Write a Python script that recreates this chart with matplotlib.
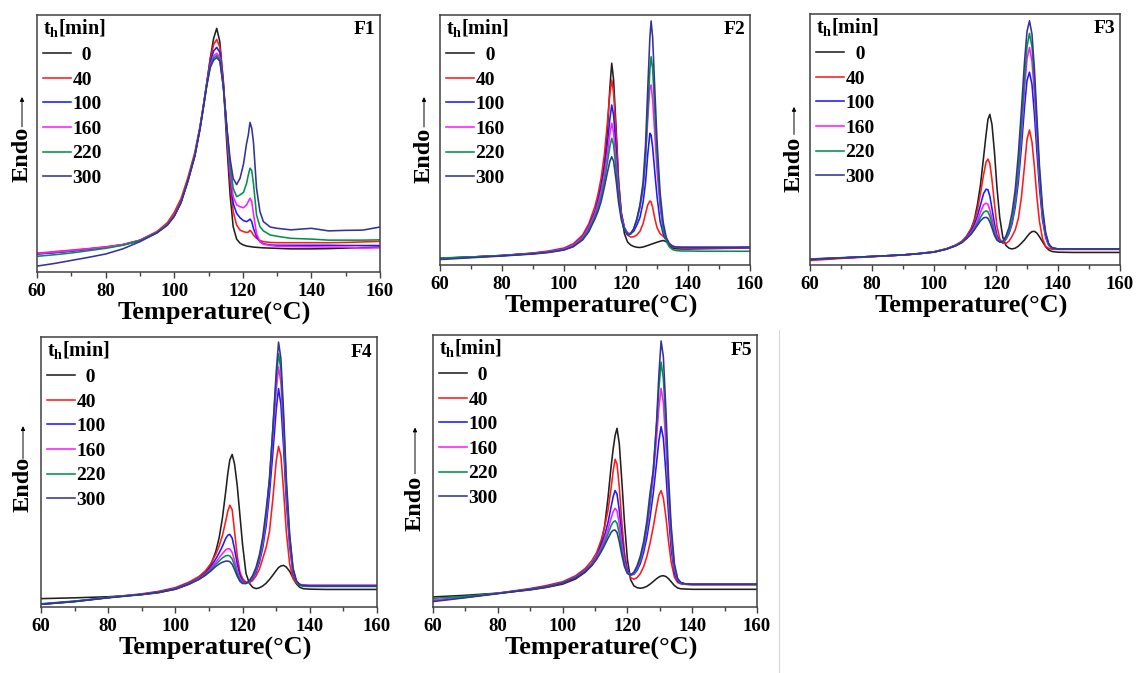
import matplotlib
matplotlib.use("Agg")
import matplotlib.pyplot as plt
from matplotlib.transforms import offset_copy
from matplotlib.lines import Line2D

plt.rcParams['font.family'] = ['Liberation Serif', 'DejaVu Serif']
plt.rcParams['font.weight'] = 'bold'
plt.rcParams['mathtext.fontset'] = 'custom'
plt.rcParams['mathtext.rm'] = 'Liberation Serif:bold'
plt.rcParams['mathtext.bf'] = 'Liberation Serif:bold'
plt.rcParams['mathtext.it'] = 'Liberation Serif:bold'

# ---------------------------------------------------------------- data
hold_times = ["  0", "40", "100", "160", "220", "300"]
colors = ['#202020', '#ff1a1a', '#1a1aff', '#ff1aff', '#00924a', '#333399']

# F1
f1_temp = [60, 65, 70, 75, 80, 85, 90, 95, 98, 100, 102, 104, 106, 107.5, 108.5,
           109.5, 110.5, 111.5, 112.4, 113.3, 114.3, 115.3, 116.3, 117.2, 118.2,
           119.2, 120.2, 121.1, 121.6, 122.1, 122.6, 123.1, 124, 125, 126, 128,
           130, 134, 140, 145, 150, 155, 160]
f1_0 = [7.1, 7.6, 8.2, 8.9, 9.6, 10.6, 12.3, 15.5, 18.5, 22.0, 27.5, 35.8, 45.5,
        56.0, 64.5, 73.5, 83.1, 90.9, 94.8, 89.6, 74.1, 50.7, 30.0, 17.6, 12.8,
        11.2, 10.5, 10.1, 10.0, 9.9, 9.8, 9.7, 9.6, 9.5, 9.4, 9.3, 9.2, 9.0,
        9.0, 9.1, 9.3, 9.5, 9.7]
f1_40 = [7.3, 7.9, 8.5, 9.1, 9.8, 10.7, 12.4, 15.8, 19.2, 23.2, 28.6, 36.8, 46.5,
         56.5, 64.8, 73.6, 82.5, 88.5, 90.5, 87.5, 75.0, 54.6, 35.2, 23.5, 18.3,
         16.3, 15.7, 15.4, 15.5, 16.2, 15.5, 14.4, 13.1, 12.3, 11.8, 11.5, 11.4,
         11.4, 11.4, 11.4, 11.5, 11.7, 11.9]
f1_100 = [7.0, 7.5, 8.1, 8.8, 9.5, 10.5, 12.2, 15.4, 18.4, 21.8, 27.3, 35.6, 45.3,
          55.8, 64.3, 73.2, 81.5, 86.0, 87.4, 85.5, 73.5, 56.0, 37.8, 26.7, 22.8,
          21.1, 20.0, 19.6, 20.0, 20.6, 19.6, 17.0, 13.8, 11.8, 11.0, 10.5, 10.4,
          10.4, 10.4, 10.4, 10.3, 10.3, 10.3]
f1_160 = [7.2, 7.7, 8.3, 9.0, 9.7, 10.6, 12.3, 15.5, 18.5, 22.0, 27.4, 35.7, 45.4,
          55.9, 64.3, 73.0, 80.5, 84.0, 85.1, 83.5, 72.5, 56.0, 39.0, 29.3, 26.1,
          25.4, 25.0, 26.1, 27.4, 28.7, 27.4, 22.8, 15.0, 11.8, 10.8, 10.3, 10.0,
          9.9, 9.8, 9.7, 9.6, 9.3, 9.4]
f1_220 = [6.1, 6.7, 7.4, 8.3, 9.2, 10.4, 12.2, 15.4, 18.4, 21.8, 27.2, 35.5, 45.2,
          55.6, 64.0, 72.8, 80.0, 83.2, 84.2, 82.8, 72.5, 57.0, 41.6, 32.6, 29.3,
          30.0, 31.0, 34.5, 37.7, 40.4, 39.5, 34.5, 22.2, 17.6, 16.0, 14.4, 13.9,
          13.1, 12.8, 12.4, 12.4, 12.4, 12.5]
f1_300 = [2.3, 3.3, 4.5, 5.7, 7.0, 9.0, 11.8, 15.2, 18.2, 21.6, 27.0, 35.3, 45.0,
          55.4, 63.8, 72.5, 79.5, 82.5, 83.4, 82.0, 72.5, 57.0, 44.0, 36.4, 34.0,
          36.5, 42.0, 50.0, 53.3, 58.2, 56.0, 50.7, 32.6, 23.5, 19.6, 17.5, 17.0,
          16.4, 17.0, 16.0, 16.2, 16.3, 17.5]

# F2
f2_temp = [60, 70, 80, 90, 95, 100, 103, 106, 108, 110, 111, 112, 113, 114, 114.8,
           115.4, 116, 116.8, 117.6, 118.5, 119.5, 120.5, 121.5, 122.5, 123.5,
           124.5, 125.5, 126.3, 127, 127.7, 128.1, 128.6, 129.3, 130, 131, 132,
           133, 134, 135, 136, 138, 140, 145, 150, 155, 160]
f2_0 = [2.7, 3.2, 3.8, 4.6, 5.2, 6.3, 7.8, 10.8, 15.0, 21.0, 26.0, 32.0, 40.0,
        54.0, 71.0, 80.7, 74.0, 55.0, 34.0, 20.0, 12.5, 9.2, 8.0, 7.4, 7.1, 7.0,
        7.2, 7.5, 7.8, 8.1, 8.3, 8.5, 8.8, 9.1, 9.5, 9.8, 9.3, 8.0, 6.8, 6.5,
        6.4, 6.4, 6.5, 6.6, 6.7, 6.8]
f2_40 = [2.5, 3.1, 3.8, 4.8, 5.6, 6.8, 8.5, 12.0, 16.5, 23.5, 28.5, 35.0, 44.0,
         57.0, 68.5, 74.0, 69.0, 52.0, 33.0, 21.0, 14.5, 12.0, 11.2, 11.3, 12.0,
         13.5, 16.5, 20.5, 24.0, 25.6, 25.2, 23.0, 18.5, 15.0, 12.5, 11.5, 10.0,
         8.3, 7.3, 7.0, 6.9, 6.9, 6.9, 6.9, 6.9, 7.0]
f2_100 = [2.6, 3.2, 3.8, 4.7, 5.4, 6.5, 8.0, 11.3, 15.5, 21.5, 26.0, 31.5, 38.5,
          48.5, 58.5, 64.0, 60.0, 46.0, 31.0, 20.5, 15.0, 12.8, 12.5, 13.5, 16.0,
          19.0, 25.0, 33.0, 44.0, 52.7, 52.0, 47.0, 37.0, 27.5, 17.5, 12.5, 9.8,
          8.2, 7.4, 7.1, 7.0, 7.0, 7.0, 7.0, 7.0, 7.0]
f2_160 = [2.5, 3.1, 3.7, 4.6, 5.3, 6.4, 7.9, 11.0, 15.0, 20.5, 24.5, 29.5, 36.0,
          44.5, 52.5, 56.7, 53.0, 41.5, 28.5, 19.5, 14.5, 12.5, 12.6, 14.5, 18.0,
          23.0, 30.0, 42.0, 58.0, 71.0, 72.0, 66.0, 52.0, 38.0, 23.0, 14.5, 10.5,
          8.5, 7.6, 7.2, 7.0, 7.0, 7.0, 7.0, 7.0, 7.0]
f2_220 = [2.8, 3.2, 3.7, 4.5, 5.1, 6.1, 7.5, 10.5, 14.2, 19.5, 23.0, 27.5, 33.5,
          41.0, 47.5, 50.7, 48.0, 38.5, 27.5, 19.0, 14.3, 12.3, 12.6, 14.5, 18.0,
          23.5, 31.0, 43.0, 61.0, 78.0, 83.3, 78.5, 61.0, 44.0, 25.5, 14.5, 9.5,
          7.2, 6.2, 5.8, 5.6, 5.6, 5.5, 5.5, 5.5, 5.5]
f2_300 = [2.2, 2.9, 3.6, 4.4, 5.0, 6.0, 7.3, 10.0, 13.3, 18.5, 21.5, 25.5, 31.0,
          37.0, 41.5, 43.3, 41.5, 34.0, 25.0, 18.0, 14.0, 12.0, 12.4, 14.5, 18.5,
          24.0, 33.0, 48.0, 70.0, 91.0, 97.6, 91.0, 70.0, 50.0, 29.0, 17.0, 11.0,
          8.5, 7.6, 7.2, 7.1, 7.1, 7.1, 7.1, 7.1, 7.2]

# F3
f3_temp = [60, 70, 80, 90, 95, 100, 104, 107, 109, 110.5, 112, 113, 114, 115, 116,
           116.8, 117.4, 118, 118.7, 119.5, 120.3, 121.2, 122.2, 123.2, 124.2,
           125.2, 126.2, 127.2, 128.2, 129.2, 130, 130.8, 131.6, 132.4, 133.2,
           134, 135, 136, 137, 138, 140, 145, 150, 155, 160]
f3_0 = [2.4, 2.9, 3.4, 4.0, 4.5, 5.2, 6.3, 7.8, 9.2, 11.3, 14.5, 18.0, 24.0, 32.0,
        43.0, 52.0, 58.0, 60.0, 56.0, 45.0, 31.0, 19.0, 11.0, 7.8, 6.7, 6.4, 6.7,
        7.5, 8.7, 10.0, 11.3, 12.5, 13.3, 13.4, 12.7, 11.3, 9.3, 7.3, 6.0, 5.4,
        5.1, 5.0, 5.0, 5.0, 5.0]
f3_40 = [1.8, 2.6, 3.3, 4.0, 4.6, 5.3, 6.5, 8.0, 9.5, 11.5, 14.5, 17.5, 22.0, 28.5,
         36.0, 41.0, 42.2, 40.5, 34.0, 24.5, 15.5, 10.5, 8.6, 8.6, 9.5, 11.5,
         14.0, 18.5, 27.0, 39.5, 50.0, 53.8, 49.0, 39.0, 27.0, 17.5, 10.5, 7.5,
         6.6, 6.3, 6.2, 6.2, 6.2, 6.2, 6.2]
f3_100 = [2.2, 2.8, 3.4, 4.0, 4.5, 5.2, 6.4, 7.8, 9.2, 11.0, 13.6, 16.0, 19.5,
          24.0, 28.5, 30.2, 30.0, 27.5, 22.5, 16.5, 11.8, 9.4, 9.0, 10.2, 12.5,
          16.5, 23.0, 33.0, 47.0, 63.0, 73.5, 76.8, 72.0, 60.0, 45.0, 31.0, 18.0,
          11.0, 7.8, 6.7, 6.3, 6.3, 6.3, 6.3, 6.3]
f3_160 = [2.3, 2.8, 3.4, 4.0, 4.5, 5.2, 6.4, 7.8, 9.1, 10.8, 13.0, 15.0, 17.5,
          21.0, 24.0, 24.6, 24.2, 22.0, 18.5, 14.0, 10.8, 9.2, 9.0, 10.5, 13.2,
          17.5, 25.0, 36.0, 52.0, 70.0, 82.0, 86.7, 81.0, 68.0, 51.0, 35.0, 20.0,
          12.0, 8.0, 6.8, 6.3, 6.3, 6.3, 6.3, 6.3]
f3_220 = [2.3, 2.8, 3.4, 4.0, 4.5, 5.2, 6.4, 7.7, 9.0, 10.6, 12.6, 14.5, 16.5,
          19.0, 21.0, 21.6, 21.2, 19.5, 16.5, 12.8, 10.3, 9.1, 9.0, 10.6, 13.5,
          18.0, 26.0, 38.0, 55.0, 74.0, 87.0, 92.3, 87.0, 73.0, 55.0, 37.0, 21.0,
          12.5, 8.2, 6.8, 6.4, 6.4, 6.4, 6.4, 6.4]
f3_300 = [2.2, 2.8, 3.4, 4.0, 4.5, 5.1, 6.3, 7.6, 8.9, 10.5, 12.3, 14.0, 15.8,
          17.6, 18.8, 19.0, 18.6, 17.2, 14.8, 11.8, 9.9, 9.2, 9.4, 11.5, 15.0,
          21.0, 30.0, 44.0, 62.0, 81.0, 93.0, 97.3, 92.0, 78.0, 59.0, 40.0, 23.0,
          13.0, 8.5, 7.0, 6.4, 6.4, 6.4, 6.4, 6.4]

# F4
f4_temp = [60, 70, 80, 90, 95, 100, 104, 107, 109, 110.5, 112, 113, 114, 115,
           115.6, 116.2, 116.9, 117.6, 118.4, 119.2, 120, 121, 122, 123, 124, 125,
           126, 127, 128, 129, 130, 130.7, 131.4, 132.2, 133, 134, 135, 136, 137,
           138, 140, 145, 150, 155, 160]
f4_0 = [3.1, 3.4, 3.8, 4.6, 5.3, 6.6, 8.5, 10.5, 12.8, 15.5, 20.5, 25.5, 33.0,
        43.0, 49.5, 54.5, 56.5, 53.0, 45.0, 34.0, 23.0, 12.5, 8.8, 7.3, 6.8, 7.1,
        7.8, 8.8, 10.2, 11.8, 13.5, 14.6, 15.2, 15.4, 14.8, 13.2, 10.8, 8.6, 7.3,
        6.8, 6.6, 6.5, 6.5, 6.5, 6.5]
f4_40 = [1.0, 2.1, 3.5, 4.9, 5.8, 7.2, 9.2, 11.3, 13.5, 16.0, 19.5, 22.5, 26.5,
         32.0, 35.5, 37.7, 36.0, 28.0, 19.0, 13.0, 10.5, 9.2, 9.0, 9.8, 11.5,
         14.0, 18.0, 22.0, 28.0, 40.0, 54.0, 59.5, 56.0, 43.0, 28.0, 16.0, 10.5,
         8.8, 8.2, 7.9, 7.8, 7.8, 7.8, 7.8, 7.8]
f4_100 = [1.0, 2.0, 3.5, 4.7, 5.6, 6.9, 8.8, 10.7, 12.6, 14.8, 17.8, 20.0, 22.5,
          25.5, 26.6, 26.9, 25.5, 21.5, 16.0, 11.8, 9.6, 8.9, 9.3, 10.6, 12.8,
          16.5, 22.0, 30.0, 42.0, 57.0, 73.0, 80.9, 75.0, 59.0, 39.0, 22.5, 12.5,
          9.2, 8.4, 8.1, 8.0, 8.0, 8.0, 8.0, 8.0]
f4_160 = [1.1, 2.1, 3.5, 4.7, 5.5, 6.8, 8.6, 10.5, 12.2, 14.2, 16.6, 18.2, 19.8,
          21.2, 21.6, 21.5, 20.2, 17.2, 13.5, 10.6, 9.2, 8.8, 9.4, 11.0, 13.5,
          17.5, 23.5, 32.5, 46.0, 63.0, 80.0, 88.9, 83.0, 65.0, 43.0, 24.5, 13.5,
          9.5, 8.4, 8.1, 8.0, 8.0, 8.0, 8.0, 8.0]
f4_220 = [1.2, 2.2, 3.5, 4.7, 5.5, 6.7, 8.5, 10.3, 12.0, 13.8, 15.8, 17.0, 18.2,
          19.0, 19.1, 18.9, 17.8, 15.5, 12.4, 10.0, 8.9, 8.7, 9.5, 11.3, 14.0,
          18.3, 24.5, 34.0, 48.0, 66.0, 84.0, 93.8, 88.0, 69.0, 45.0, 26.0, 14.0,
          9.5, 8.0, 7.7, 7.6, 7.6, 7.6, 7.6, 7.6]
f4_300 = [1.0, 2.0, 3.4, 4.6, 5.4, 6.6, 8.4, 10.2, 11.8, 13.3, 15.0, 15.9, 16.6,
          17.0, 17.0, 16.8, 15.8, 13.9, 11.4, 9.5, 8.7, 8.7, 9.7, 11.7, 14.7,
          19.3, 26.0, 36.0, 47.0, 66.0, 87.0, 98.1, 92.0, 72.0, 48.0, 27.0, 14.5,
          9.8, 8.3, 8.0, 7.8, 7.8, 7.8, 7.8, 7.8]

# F5
f5_temp = [60, 70, 80, 90, 95, 100, 104, 107, 109, 110.5, 112, 113, 114, 115,
           115.6, 116.2, 116.8, 117.5, 118.3, 119.1, 120, 121, 122, 123, 124, 125,
           126, 127, 128, 129, 129.7, 130.4, 131.1, 131.9, 132.7, 133.5, 134.5,
           135.5, 136.5, 138, 140, 145, 150, 155, 160]
f5_0 = [3.7, 4.3, 5.1, 6.3, 7.2, 8.4, 10.3, 12.8, 15.3, 18.3, 24.0, 30.0, 40.0,
        52.0, 58.0, 63.0, 65.7, 60.0, 46.0, 31.0, 17.5, 10.0, 7.8, 7.1, 6.9, 7.1,
        7.6, 8.4, 9.4, 10.4, 11.0, 11.4, 11.5, 11.2, 10.4, 9.3, 7.9, 7.0, 6.7,
        6.6, 6.5, 6.5, 6.5, 6.5, 6.5]
f5_40 = [2.2, 3.6, 5.1, 6.8, 7.9, 9.3, 11.5, 14.2, 17.0, 20.0, 25.0, 29.5, 35.5,
         44.0, 50.0, 54.3, 52.5, 44.0, 31.0, 20.0, 13.5, 10.8, 10.2, 10.8, 12.3,
         14.8, 18.5, 23.5, 29.5, 36.5, 41.0, 42.8, 40.0, 33.0, 24.0, 16.5, 11.0,
         9.0, 8.5, 8.3, 8.2, 8.2, 8.2, 8.2, 8.2]
f5_100 = [2.4, 3.6, 5.0, 6.6, 7.6, 9.0, 11.1, 13.6, 16.0, 18.8, 23.0, 26.5, 31.0,
          37.0, 40.5, 42.8, 41.5, 35.5, 26.0, 18.0, 13.3, 11.8, 12.0, 13.5, 16.0,
          20.0, 25.5, 33.0, 42.0, 53.0, 61.0, 66.3, 62.0, 49.0, 34.0, 21.5, 12.5,
          9.5, 8.7, 8.4, 8.3, 8.3, 8.3, 8.3, 8.3]
f5_160 = [2.4, 3.6, 5.0, 6.5, 7.5, 8.9, 11.0, 13.4, 15.7, 18.3, 22.0, 25.0, 28.5,
          32.8, 35.0, 36.3, 35.3, 30.5, 23.0, 16.5, 12.8, 11.7, 12.3, 14.2, 17.2,
          21.8, 28.2, 37.0, 48.0, 62.0, 73.0, 80.4, 75.0, 59.0, 40.0, 25.0, 14.0,
          10.0, 8.8, 8.4, 8.3, 8.3, 8.3, 8.3, 8.3]
f5_220 = [3.2, 3.9, 5.0, 6.5, 7.4, 8.8, 10.8, 13.2, 15.5, 17.9, 21.2, 23.8, 26.8,
          30.0, 31.2, 31.7, 30.8, 27.0, 20.8, 15.5, 12.5, 11.7, 12.5, 14.6, 17.8,
          22.7, 29.5, 39.0, 51.0, 67.0, 80.0, 90.0, 84.0, 66.0, 44.0, 27.5, 15.0,
          10.2, 8.9, 8.4, 8.3, 8.3, 8.3, 8.3, 8.3]
f5_300 = [2.0, 3.4, 4.9, 6.4, 7.3, 8.7, 10.7, 13.0, 15.2, 17.5, 20.5, 22.8, 25.2,
          27.5, 28.2, 28.3, 27.4, 24.0, 19.0, 14.8, 12.3, 11.8, 12.8, 15.2, 18.8,
          24.0, 31.5, 42.0, 50.0, 68.0, 85.0, 97.8, 92.0, 72.0, 48.0, 30.0, 16.0,
          10.5, 9.0, 8.5, 8.4, 8.4, 8.4, 8.4, 8.4]

x_major = [60, 80, 100, 120, 140, 160]
x_minor = [70, 90, 110, 130, 150]

# ---------------------------------------------------------------- figure
W, H = 1137, 673
fig = plt.figure(figsize=(W / 100, H / 100), dpi=100)


def px_axes(left, top, right, bottom):
    return fig.add_axes([left / W, 1 - bottom / H, (right - left) / W, (bottom - top) / H])


def panel(box, temp, curves, tag, endo, arrow, ylab_dx):
    ax = px_axes(*box)
    width_px = box[2] - box[0]
    for vals, col, lab in zip(curves, colors, hold_times):
        ax.plot(temp, vals, color=col, lw=1.15, label=lab)
    ax.set_xlim(60, 160)
    ax.set_ylim(0, 100)
    ax.set_yticks([])
    ax.set_xticks(x_major)
    ax.set_xticks(x_minor, minor=True)
    ax.tick_params(axis='x', which='major', direction='out', length=4, width=1.0,
                   labelsize=13.5, pad=4, color='#404040')
    ax.tick_params(axis='x', which='minor', direction='out', length=3, width=1.0,
                   color='#404040')
    for s in ax.spines.values():
        s.set_color('#404040')
        s.set_linewidth(1.1)
    ax.set_xlabel('Temperature(°C)', fontsize=19, fontweight='bold', labelpad=1)
    ax.xaxis.label.set_x(0.5 + 6 / width_px)

    leg = ax.legend(loc='upper left', bbox_to_anchor=(4 / width_px, 1.0),
                    frameon=False, fontsize=14,
                    title=r'$\mathbf{t_h}$[min]', title_fontsize=14.5,
                    alignment='left', handlelength=1.4, handletextpad=0.1,
                    labelspacing=0.36, borderaxespad=0.0, borderpad=0.12)
    for t in leg.get_texts():
        t.set_fontweight('bold')
    leg.get_title().set_fontweight('bold')

    ax.text(0.985, 0.975, tag, transform=ax.transAxes, ha='right', va='top',
            fontsize=14, fontweight='bold')

    trans = offset_copy(ax.transAxes, fig=fig, x=ylab_dx, y=0, units='dots')
    ax.text(0, endo, 'Endo', transform=trans, rotation=90, ha='center',
            va='bottom', fontsize=17.5, fontweight='bold')
    ax.annotate('', xy=(0, arrow[1]), xytext=(0, arrow[0]), xycoords=trans,
                textcoords=trans, annotation_clip=False,
                arrowprops=dict(arrowstyle='-|>', lw=0.7, color='black',
                                mutation_scale=6, shrinkA=0, shrinkB=0))
    return ax


panel((37, 15, 380, 272), f1_temp, [f1_0, f1_40, f1_100, f1_160, f1_220, f1_300],
      'F1', 0.35, (0.565, 0.681), -15)
panel((440, 15, 750, 265), f2_temp, [f2_0, f2_40, f2_100, f2_160, f2_220, f2_300],
      'F2', 0.328, (0.552, 0.672), -16)
panel((810, 14, 1120, 265), f3_temp, [f3_0, f3_40, f3_100, f3_160, f3_220, f3_300],
      'F3', 0.29, (0.52, 0.63), -16)
panel((41, 337, 377, 607), f4_temp, [f4_0, f4_40, f4_100, f4_160, f4_220, f4_300],
      'F4', 0.35, (0.55, 0.67), -18)
panel((433, 335, 757, 607), f5_temp, [f5_0, f5_40, f5_100, f5_160, f5_220, f5_300],
      'F5', 0.28, (0.49, 0.66), -18)

fig.add_artist(Line2D([779 / W, 779 / W], [0, 343 / H], color='#d8d8d8', lw=0.8,
                      transform=fig.transFigure))

fig.savefig('out.png', dpi=100)
